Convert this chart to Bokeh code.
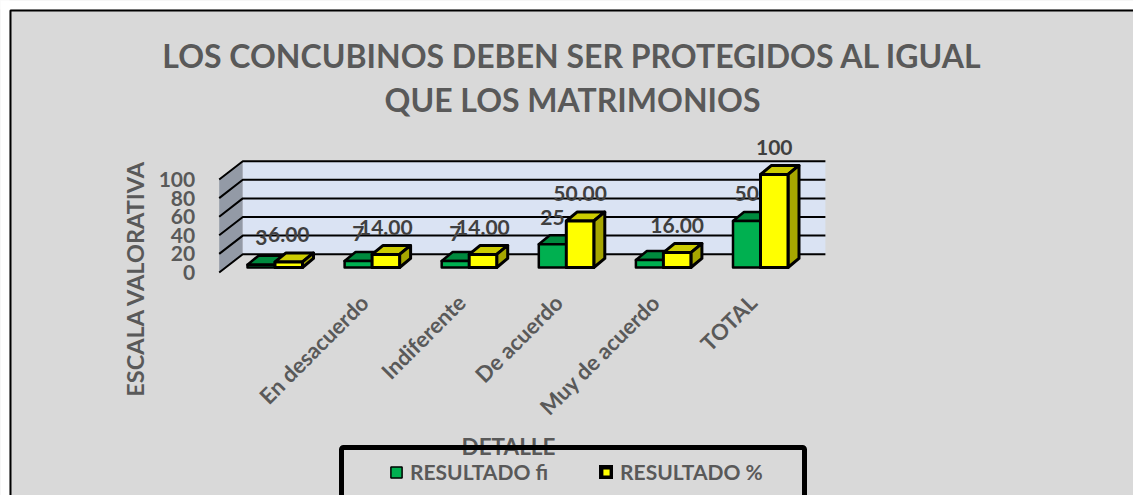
from math import pi
from bokeh.plotting import figure
from bokeh.embed import file_html
from bokeh.resources import INLINE
from bokeh.core.properties import value
from bokeh.models import (Range1d, FixedTicker, Label, BoxAnnotation, Legend, LegendItem, LinearAxis)

TITLE_LINES = ["LOS CONCUBINOS DEBEN SER PROTEGIDOS AL IGUAL", "QUE LOS MATRIMONIOS"]
Y_TITLE = "ESCALA VALORATIVA"
X_TITLE = "DETALLE"
CATEGORIES = ["", "En desacuerdo", "Indiferente", "De acuerdo", "Muy de acuerdo", "TOTAL"]
FI = [3, 7, 7, 25, 8, 50]
PCT = [6, 14, 14, 50, 16, 100]
FI_LABELS = ["3", "7", "7", "25", "", "50"]
PCT_LABELS = ["6.00", "14.00", "14.00", "50.00", "16.00", "100"]
Y_TICKS = [0, 20, 40, 60, 80, 100]

FONT = "Lato"
GRAY = "#595959"
DARK = "#404040"
BG = "#d9d9d9"
W, H = 1133, 495

PX_CAT = 97.1
PX_VAL = 0.93
WALL_X, FLOOR_Y = 242.3, 272
DEPTH = 23.6 / PX_CAT
RISE = 18.3 / PX_VAL
BASE = 5.4
BAR_DX = 11 / PX_CAT
BAR_DY = 9.7
BAR_W = 27.5 / PX_CAT
BAR_X0 = 4.7 / PX_CAT
n = len(CATEGORIES)
NAN = float("nan")


def sx(px):
    return (px - WALL_X) / PX_CAT


def sy(px):
    return (FLOOR_Y - px) / PX_VAL


p = figure(width=W, height=H, min_border=0, toolbar_location=None, output_backend="svg",
           x_axis_location=None, y_axis_location=None,
           x_range=Range1d(sx(0), sx(W)), y_range=Range1d(sy(H), sy(0)))
p.border_fill_color = BG
p.background_fill_color = BG
p.outline_line_color = None
p.grid.visible = False

# walls
p.patches([[-DEPTH, 0, 0, -DEPTH]], [[0, RISE, 100 + RISE, 100]],
          fill_color="#939aa6", line_color=None)
p.quad(left=[0], right=[n], bottom=[RISE], top=[100 + RISE], fill_color="#dae3f3", line_color=None)
for t in Y_TICKS:
    p.line([-DEPTH, 0, n], [t, t + RISE, t + RISE], line_color="#000000", line_width=2)


def bar_set(vals, shift, front, top_c, side_c, lw):
    x0 = [i + BAR_X0 + shift for i in range(n)]
    x1 = [x + BAR_W for x in x0]
    y1 = [BASE + v for v in vals]
    p.patches([[a, a + BAR_DX, b + BAR_DX, b] for a, b in zip(x0, x1)],
              [[t, t + BAR_DY, t + BAR_DY, t] for t in y1],
              fill_color=top_c, line_color="#000000", line_width=lw, line_join="round")
    p.patches([[b, b + BAR_DX, b + BAR_DX, b] for b in x1],
              [[BASE, BASE + BAR_DY, t + BAR_DY, t] for t in y1],
              fill_color=side_c, line_color="#000000", line_width=lw, line_join="round")
    p.quad(left=x0, right=x1, bottom=[BASE] * n, top=y1,
           fill_color=front, line_color="#000000", line_width=lw, line_join="round")
    return [(a + b) / 2 for a, b in zip(x0, x1)], y1


g_x, g_y = bar_set(FI, 0, "#00b050", "#008a3e", "#008a3e", 2.5)
y_x, y_y = bar_set(PCT, BAR_W, "#ffff00", "#cccc00", "#a6a600", 3)

p.text(g_x, g_y, text=FI_LABELS, text_font=value(FONT), text_font_style="bold", text_font_size="21px",
       text_color=DARK, text_align="center", text_baseline="middle", y_offset=-27)
p.text(y_x, y_y, text=PCT_LABELS, text_font=value(FONT), text_font_style="bold", text_font_size="21px",
       text_color=DARK, text_align="center", text_baseline="middle", y_offset=-27)

# axes, placed inside the frame at the front edge of the chart
ax = LinearAxis(fixed_location=0)
ax.ticker = FixedTicker(ticks=[i + 0.25 for i in range(1, n)])
ax.major_label_overrides = {i + 0.25: CATEGORIES[i] for i in range(1, n)}
ax.major_label_orientation = pi / 4
ax.major_label_standoff = 20
ay = LinearAxis(fixed_location=-DEPTH)
ay.ticker = FixedTicker(ticks=Y_TICKS)
ay.major_label_standoff = 18
for a, size in ((ax, "22px"), (ay, "21px")):
    a.axis_line_color = None
    a.major_tick_line_color = None
    a.minor_tick_line_color = None
    a.major_label_text_font = FONT
    a.major_label_text_font_style = "bold"
    a.major_label_text_font_size = size
    a.major_label_text_color = GRAY
p.add_layout(ax, "below")
p.add_layout(ay, "left")

# white page band and outer border (only left and top reach the picture)
p.add_layout(BoxAnnotation(left=sx(-20), right=sx(9), top=sy(-20), bottom=sy(H + 20),
                           fill_color="#ffffff", fill_alpha=1, line_color=None))
p.add_layout(BoxAnnotation(left=sx(-20), right=sx(W + 20), top=sy(-20), bottom=sy(9),
                           fill_color="#ffffff", fill_alpha=1, line_color=None))
p.add_layout(BoxAnnotation(left=sx(10), right=sx(W + 60), top=sy(10), bottom=sy(H + 60),
                           fill_alpha=0, line_color="#000000", line_alpha=1, line_width=2))

common = dict(text_font=FONT, text_font_style="bold", text_color=GRAY,
              text_align="center", text_baseline="middle")
p.add_layout(Label(x=sx(572), y=sy(55), text=TITLE_LINES[0], text_font_size="32px", **common))
p.add_layout(Label(x=sx(572), y=sy(99), text=TITLE_LINES[1], text_font_size="32px", **common))
p.add_layout(Label(x=sx(134), y=sy(278), text=Y_TITLE, angle=pi / 2, text_font_size="23.5px", **common))
p.add_layout(Label(x=sx(508), y=sy(446), text=X_TITLE, text_font_size="22.5px", **common))

# legend box; the swatches carry their own outline weights
p.add_layout(BoxAnnotation(left=sx(341), right=sx(804), top=sy(447), bottom=sy(H + 60),
                           fill_alpha=0, line_color="#000000", line_alpha=1, line_width=5, border_radius=2))
g_swatch = p.quad(left=[NAN], right=[NAN], bottom=[NAN], top=[NAN],
                  fill_color="#00b050", line_color="#000000", line_width=1.5)
y_swatch = p.quad(left=[NAN], right=[NAN], bottom=[NAN], top=[NAN],
                  fill_color="#ffff00", line_color="#000000", line_width=5, line_join="round")
legend = Legend(items=[LegendItem(label="RESULTADO fi", renderers=[g_swatch]),
                       LegendItem(label="RESULTADO %", renderers=[y_swatch])],
                orientation="horizontal", location=(389, 11), padding=16, spacing=51,
                glyph_width=14, glyph_height=14, label_standoff=7,
                background_fill_alpha=0, border_line_color=None,
                label_text_font=FONT, label_text_font_style="bold",
                label_text_font_size="21px", label_text_color=GRAY)
p.add_layout(legend)

open("out.html", "w").write(file_html(p, INLINE))
